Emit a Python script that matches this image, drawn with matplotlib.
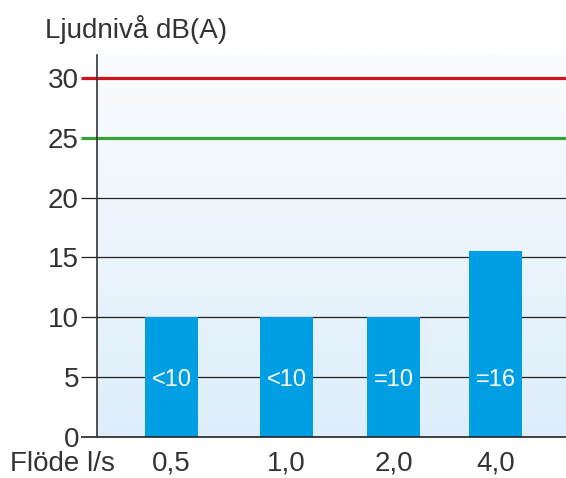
import numpy as np
import matplotlib
matplotlib.use("Agg")
import matplotlib.pyplot as plt
from matplotlib.colors import LinearSegmentedColormap

categories = ["0,5", "1,0", "2,0", "4,0"]
values = [10, 10, 10, 15.5]
bar_labels = ["<10", "<10", "=10", "=16"]
yticks = [0, 5, 10, 15, 20, 25, 30]
limit_red = 30
limit_green = 25

positions = [0, 1, 1.93, 2.817]

plt.rcParams['font.family'] = ['Liberation Sans', 'DejaVu Sans']
TXT = '#333333'

fig = plt.figure(figsize=(5.66, 4.78), dpi=100)
ax = fig.add_axes([97/566, 1-437/478, 1-97/566, (437-55)/478])
X0, X1 = -0.648, 3.43
ax.set_xlim(X0, X1)
ax.set_ylim(0, 31.9)
XL = X0 - 16/115

grad = np.linspace(0, 1, 256).reshape(-1, 1)
cmap = LinearSegmentedColormap.from_list('bg', ['#ddeefa', '#fafcfe'])
ax.imshow(grad, aspect='auto', cmap=cmap, origin='lower',
          extent=[X0, X1, 0, 31.9], zorder=0)

for y in yticks:
    if y == limit_red:
        c, lw, z = '#d0131b', 2.3, 3
    elif y == limit_green:
        c, lw, z = '#3aa03a', 2.3, 3
    elif y == 0:
        c, lw, z = '#222222', 1.2, 5
    else:
        c, lw, z = '#222222', 0.9, 1
    ax.plot([XL, X1], [y, y], color=c, lw=lw, zorder=z, clip_on=False,
            solid_capstyle='butt')

ax.bar(positions, values, width=0.46, color='#009fe3', zorder=2)
for p, lab in zip(positions, bar_labels):
    ax.text(p, 4.8, lab, ha='center', va='center', color='white', fontsize=17, zorder=4)

ax.set_yticks(yticks)
ax.set_yticklabels([str(t) for t in yticks])
ax.set_xticks(positions)
ax.set_xticklabels(categories)
ax.tick_params(axis='y', length=0, labelcolor=TXT, labelsize=20, pad=13)
ax.tick_params(axis='x', length=0, labelcolor=TXT, labelsize=20, pad=10)

for s in ['top', 'right', 'bottom']:
    ax.spines[s].set_visible(False)
ax.spines['left'].set_color('#333333')
ax.spines['left'].set_linewidth(1.2)
ax.spines['left'].set_zorder(6)

fig.text(45/566, 1-30/478, "Ljudnivå dB(A)", ha='left', va='center', fontsize=20, color=TXT)
fig.text(10/566, 1-464/478, "Flöde l/s", ha='left', va='center', fontsize=20, color=TXT)

fig.savefig('out.png', dpi=100)
